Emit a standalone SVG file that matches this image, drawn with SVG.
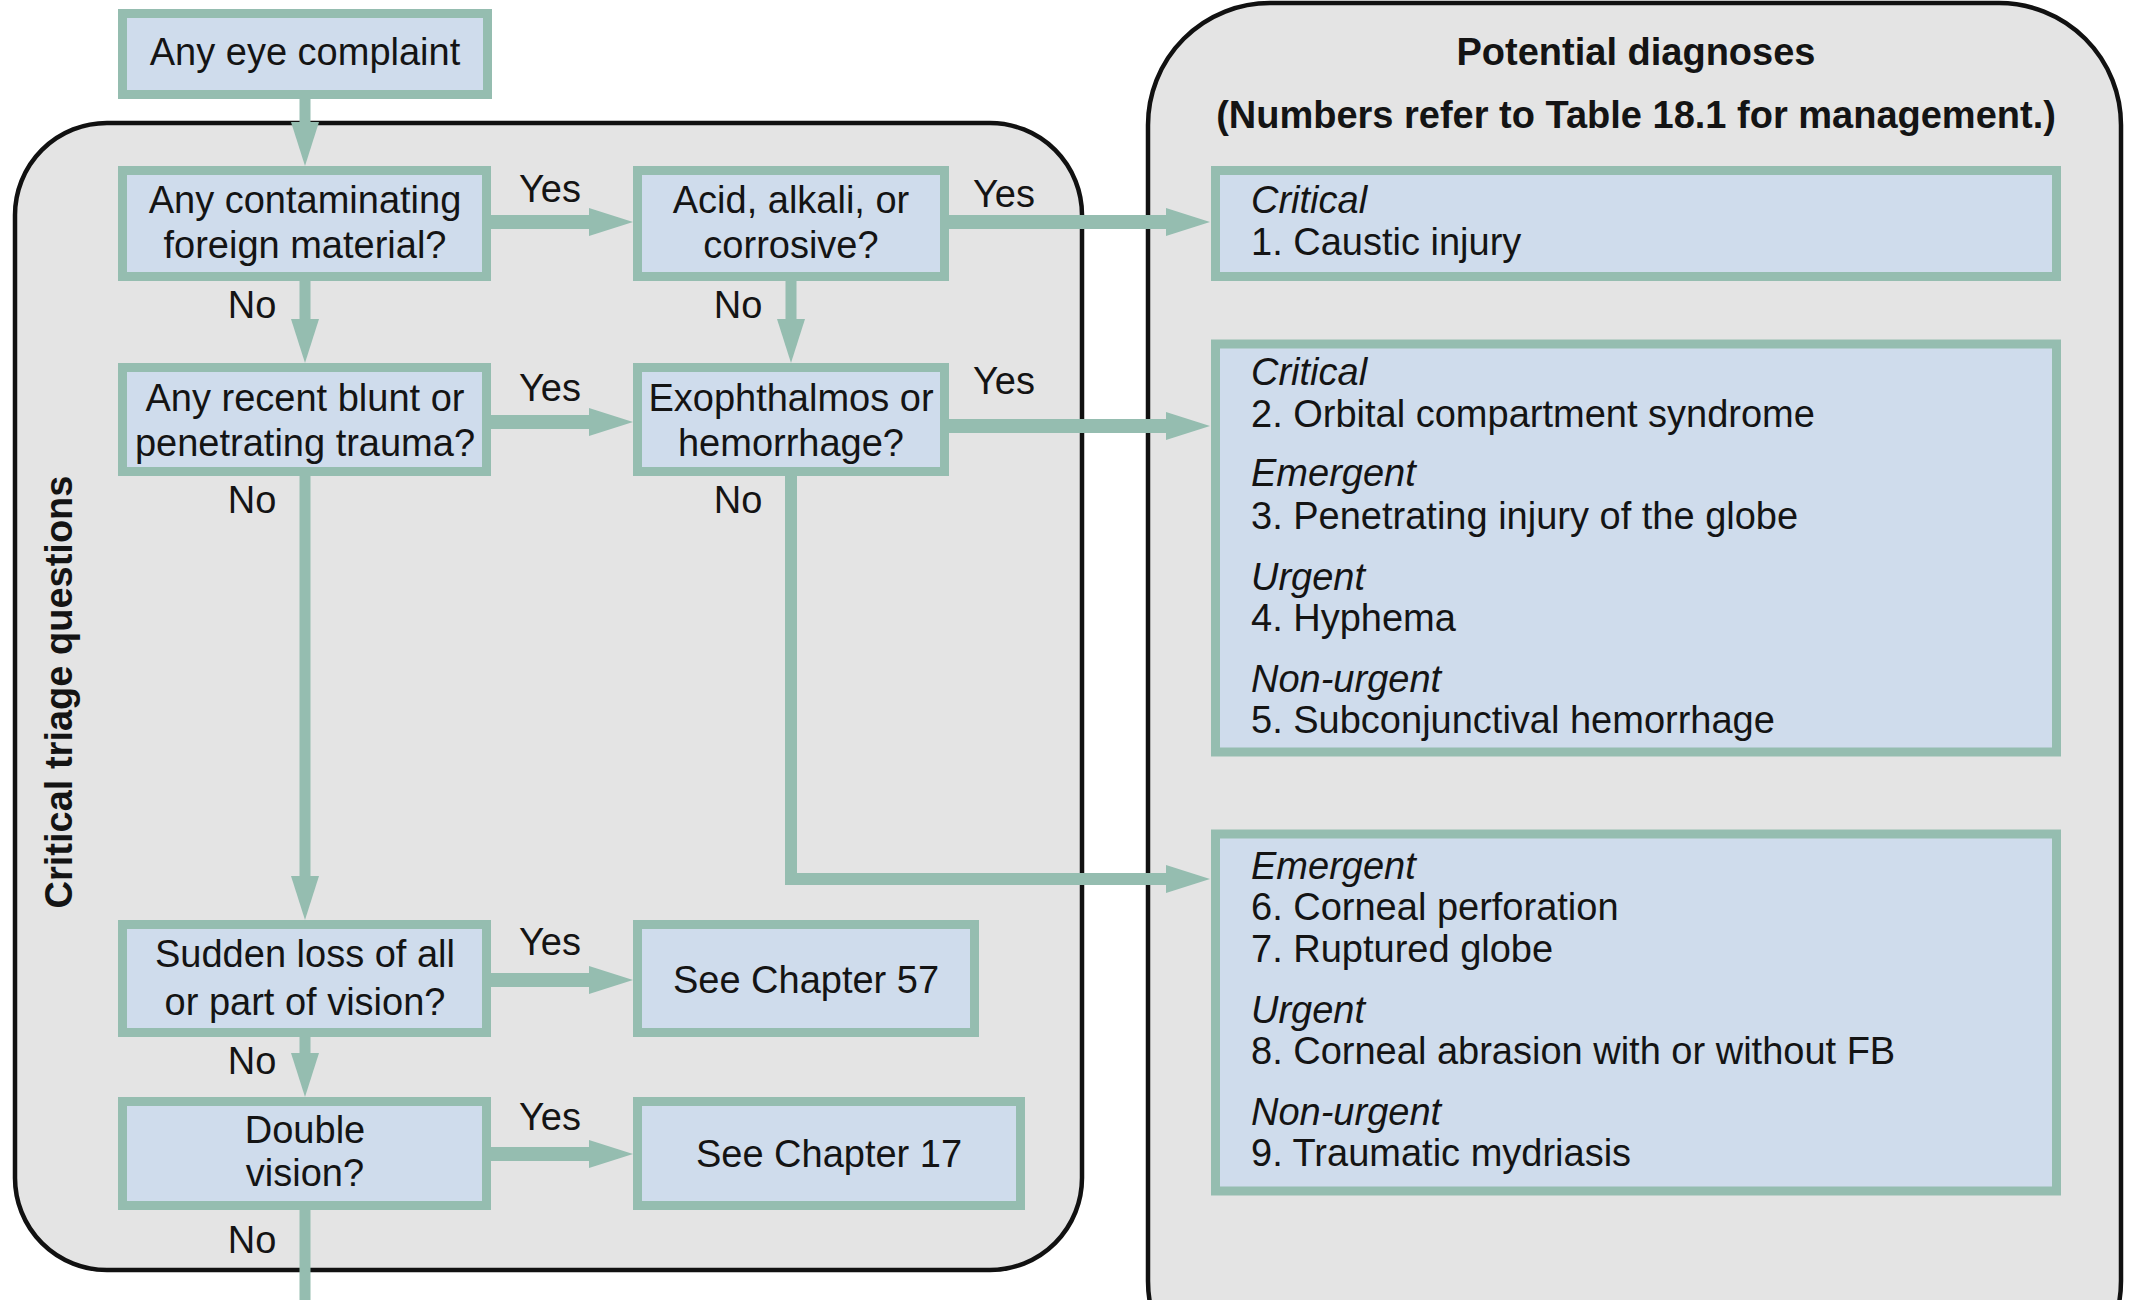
<svg xmlns="http://www.w3.org/2000/svg" width="2134" height="1300" viewBox="0 0 2134 1300">
<style>
.cont{fill:#e4e4e4;stroke:#111;stroke-width:4.5}
.box{fill:#cfdcec;stroke:#95bdb0;stroke-width:9}
text{font-family:"Liberation Sans",Arial,sans-serif;font-size:38px;fill:#141414}
.c{text-anchor:middle}
.b{font-weight:bold}
.i{font-style:italic}
#connectors path{fill:none;stroke:#95bdb0;stroke-linejoin:miter}
#connectors .v{stroke-width:11}
#connectors .h{stroke-width:14}
#connectors .a{marker-end:url(#head)}
</style>
<defs>
<marker id="head" viewBox="0 0 44 28" refX="0" refY="14" markerWidth="44" markerHeight="28" markerUnits="userSpaceOnUse" orient="auto">
<polygon points="0,0 44,14 0,28" fill="#95bdb0"/>
</marker>
</defs>
<rect width="2134" height="1300" fill="#ffffff"/>

<g id="triage-container">
<rect class="cont" x="15" y="123" width="1067" height="1147" rx="92" ry="92"/>
<text class="b c" transform="translate(72,692) rotate(-90)">Critical triage questions</text>
</g>
<g id="diagnoses-container">
<rect class="cont" x="1148" y="3" width="973" height="1400" rx="122" ry="122"/>
<text class="b c" x="1636" y="65">Potential diagnoses</text>
<text class="b c" x="1636" y="128">(Numbers refer to Table 18.1 for management.)</text>
</g>

<g id="connectors">
<path class="v a" d="M305,99 V122"/>
<path class="h a" d="M491,222 H589"/>
<path class="h a" d="M949,222 H1166"/>
<path class="v a" d="M305,281 V319"/>
<path class="v a" d="M791,281 V319"/>
<path class="h a" d="M491,422 H589"/>
<path class="h a" d="M949,426 H1166"/>
<path class="v a" d="M305,476 V876"/>
<path class="a" stroke-width="12" d="M791,476 V879 H1166"/>
<path class="h a" d="M491,980 H589"/>
<path class="v a" d="M305,1037 V1053"/>
<path class="h a" d="M491,1154 H589"/>
<path class="v" d="M305,1210 V1300"/>
<text class="c" x="550" y="202">Yes</text>
<text class="c" x="1004" y="207">Yes</text>
<text class="c" x="252" y="318">No</text>
<text class="c" x="738" y="318">No</text>
<text class="c" x="550" y="401">Yes</text>
<text class="c" x="1004" y="394">Yes</text>
<text class="c" x="252" y="513">No</text>
<text class="c" x="738" y="513">No</text>
<text class="c" x="550" y="955">Yes</text>
<text class="c" x="252" y="1074">No</text>
<text class="c" x="550" y="1130">Yes</text>
<text class="c" x="252" y="1253">No</text>
</g>

<g id="eye-complaint">
<rect class="box" x="122.5" y="13.5" width="365" height="81"/>
<text class="c" x="305" y="65">Any eye complaint</text>
</g>
<g id="contaminating">
<rect class="box" x="122.5" y="170.5" width="364" height="106"/>
<text class="c" x="305" y="213">Any contaminating</text>
<text class="c" x="305" y="258">foreign material?</text>
</g>
<g id="acid">
<rect class="box" x="637.5" y="170.5" width="307" height="106"/>
<text class="c" x="791" y="213">Acid, alkali, or</text>
<text class="c" x="791" y="258">corrosive?</text>
</g>
<g id="trauma">
<rect class="box" x="122.5" y="367.5" width="364" height="104"/>
<text class="c" x="305" y="411">Any recent blunt or</text>
<text class="c" x="305" y="456">penetrating trauma?</text>
</g>
<g id="exophthalmos">
<rect class="box" x="637.5" y="367.5" width="307" height="104"/>
<text class="c" x="791" y="411">Exophthalmos or</text>
<text class="c" x="791" y="456">hemorrhage?</text>
</g>
<g id="sudden-loss">
<rect class="box" x="122.5" y="924.5" width="364" height="108"/>
<text class="c" x="305" y="967">Sudden loss of all</text>
<text class="c" x="305" y="1015">or part of vision?</text>
</g>
<g id="chapter-57">
<rect class="box" x="637.5" y="924.5" width="337" height="108"/>
<text class="c" x="806" y="993">See Chapter 57</text>
</g>
<g id="double-vision">
<rect class="box" x="122.5" y="1101.5" width="364" height="104"/>
<text class="c" x="305" y="1143">Double</text>
<text class="c" x="305" y="1186">vision?</text>
</g>
<g id="chapter-17">
<rect class="box" x="637.5" y="1101.5" width="383" height="104"/>
<text class="c" x="829" y="1167">See Chapter 17</text>
</g>

<g id="diagnosis-1">
<rect class="box" x="1215.5" y="170.5" width="841" height="106"/>
<text class="i" x="1251" y="213">Critical</text>
<text x="1251" y="255">1. Caustic injury</text>
</g>
<g id="diagnosis-2">
<rect class="box" x="1215.5" y="344" width="841" height="408"/>
<text class="i" x="1251" y="385">Critical</text>
<text x="1251" y="427">2. Orbital compartment syndrome</text>
<text class="i" x="1251" y="486">Emergent</text>
<text x="1251" y="529">3. Penetrating injury of the globe</text>
<text class="i" x="1251" y="590">Urgent</text>
<text x="1251" y="631">4. Hyphema</text>
<text class="i" x="1251" y="692">Non-urgent</text>
<text x="1251" y="733">5. Subconjunctival hemorrhage</text>
</g>
<g id="diagnosis-3">
<rect class="box" x="1215.5" y="834" width="841" height="357"/>
<text class="i" x="1251" y="879">Emergent</text>
<text x="1251" y="920">6. Corneal perforation</text>
<text x="1251" y="962">7. Ruptured globe</text>
<text class="i" x="1251" y="1023">Urgent</text>
<text x="1251" y="1064">8. Corneal abrasion with or without FB</text>
<text class="i" x="1251" y="1125">Non-urgent</text>
<text x="1251" y="1166">9. Traumatic mydriasis</text>
</g>
</svg>
